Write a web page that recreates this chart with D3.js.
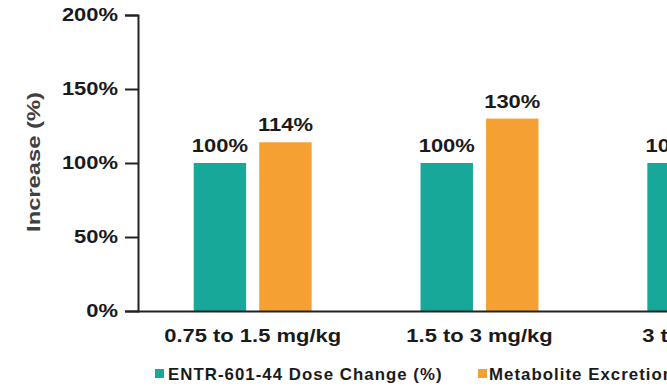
<!DOCTYPE html>
<html>
<head>
<meta charset="utf-8">
<script src="https://cdn.jsdelivr.net/npm/d3@7/dist/d3.min.js"></script>
<style>
  html, body { margin: 0; padding: 0; background: #fff; overflow: hidden; }
  svg { display: block; font-family: "Liberation Sans", Arial, sans-serif; }
</style>
</head>
<body>
<svg id="chart" width="667" height="388"></svg>
<script>
// Dose-escalation groups
const categories = ["0.75 to 1.5 mg/kg", "1.5 to 3 mg/kg", "3 to 6 mg/kg"];
// Series names (legend)
const seriesNames = ["ENTR-601-44 Dose Change (%)", "Metabolite Excretion (%)"];
// Percent increase per group
const doseChange = [100, 100, 100];
const metaboliteExcretion = [114, 130, null];
// Y tick values
const yTicks = [0, 50, 100, 150, 200];

const colors = ["#17a899", "#f5a032"];
const seriesValues = [doseChange, metaboliteExcretion];
const WIDE = 1.22;   // horizontal stretch applied to the bold labels

const svg = d3.select("#chart");
const x0 = d3.scaleBand().domain(categories).range([137, 822])
  .paddingInner(0.48).paddingOuter(0.25);
const x1 = d3.scaleBand().domain(seriesNames).range([0, x0.bandwidth()])
  .paddingInner(0.2).paddingOuter(0);
const y = d3.scaleLinear().domain([0, 200]).range([311, 15]);

// Text placed at (x, y) and widened about its anchor point
function wideText(x, yy, str, size, opts = {}) {
  return svg.append("text")
    .attr("transform", `translate(${x},${yy}) ${opts.rotate ? "rotate(-90) " : ""}scale(${opts.scale || WIDE},1)`)
    .attr("text-anchor", opts.anchor || "middle")
    .attr("font-size", size).attr("font-weight", "bold")
    .attr("fill", opts.fill || "#1a1a1a")
    .attr("letter-spacing", opts.spacing || 0)
    .text(str);
}

// Bars and value labels
categories.forEach((c, i) => {
  seriesNames.forEach((s, j) => {
    const v = seriesValues[j][i];
    if (v == null) return;
    const bx = x0(c) + x1(s);
    svg.append("rect")
      .attr("x", bx).attr("y", y(v))
      .attr("width", x1.bandwidth()).attr("height", y(0) - y(v))
      .attr("fill", colors[j]);
    wideText(bx + x1.bandwidth() / 2, y(v) - 11, v + "%", 18);
  });
});

// Widen the tick labels generated by an axis, keeping their anchor
function widenTicks(g) {
  g.selectAll(".tick text")
    .attr("font-size", 18).attr("font-weight", "bold")
    .attr("fill", "#1a1a1a").attr("font-family", "Liberation Sans, Arial, sans-serif")
    .each(function () {
      const t = d3.select(this);
      t.attr("x", (+t.attr("x") || 0) / WIDE).attr("transform", `scale(${WIDE},1)`);
    });
}

// Y axis
const yAxis = svg.append("g").attr("transform", "translate(138,0)")
  .call(d3.axisLeft(y).tickValues(yTicks).tickFormat(d => d + "%").tickSize(13).tickPadding(7));
yAxis.select(".domain").attr("stroke", "#222").attr("stroke-width", 2);
yAxis.selectAll(".tick line").attr("stroke", "#222").attr("stroke-width", 2);
widenTicks(yAxis);

// X axis
const xAxis = svg.append("g").attr("transform", "translate(0,311)")
  .call(d3.axisBottom(x0).tickSize(0).tickPadding(18));
xAxis.select(".domain").attr("stroke", "#222").attr("stroke-width", 2);
widenTicks(xAxis);

// Y axis title
wideText(40, 162, "Increase (%)", 19, { rotate: true, scale: 1.25, fill: "#404040" });

// Legend
const legendSwatchX = [155, 478];
const legendTextX = [168, 489];
seriesNames.forEach((s, j) => {
  svg.append("rect")
    .attr("x", legendSwatchX[j]).attr("y", 369).attr("width", 9).attr("height", 9)
    .attr("fill", colors[j]);
  wideText(legendTextX[j], 380, s, 16, { anchor: "start", scale: 1.05, spacing: 1.0 });
});
</script>
</body>
</html>
